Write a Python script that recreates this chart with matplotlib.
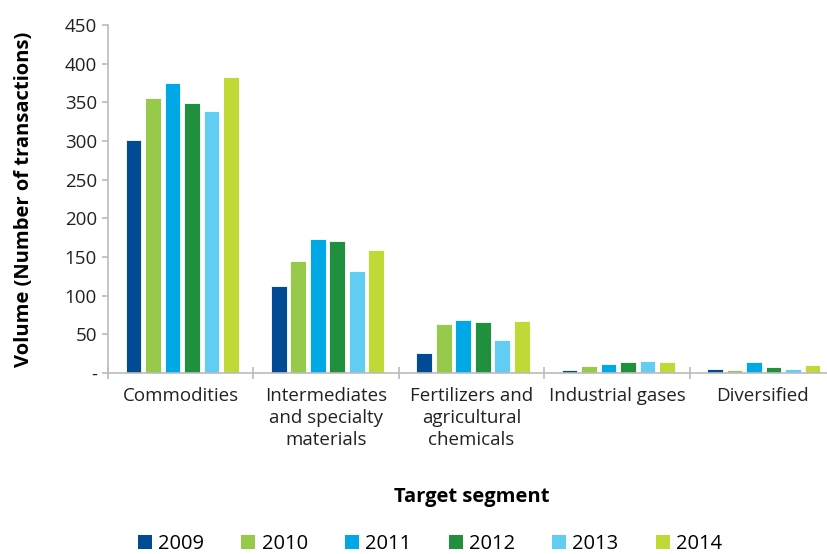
import matplotlib
matplotlib.use("Agg")
import matplotlib.pyplot as plt
import numpy as np
from matplotlib.patches import Patch

plt.rcParams['font.family'] = ['Open Sans', 'DejaVu Sans']

categories = ["Commodities", "Intermediates\nand specialty\nmaterials",
              "Fertilizers and\nagricultural\nchemicals", "Industrial gases", "Diversified"]
years = ["2009", "2010", "2011", "2012", "2013", "2014"]
values = {
    "2009": [301, 113, 26, 4, 5],
    "2010": [356, 145, 63, 9, 4.5],
    "2011": [375, 173, 68, 12, 14.5],
    "2012": [349, 171, 66, 14, 8],
    "2013": [339, 132, 43, 15.5, 5],
    "2014": [383, 159, 67, 14, 10],
}
colors = ["#004B93", "#97C94B", "#00A9E6", "#20903F", "#62CDF2", "#C0D937"]
yticks = [0, 50, 100, 150, 200, 250, 300, 350, 400, 450]
ytick_labels = ["-", "50", "100", "150", "200", "250", "300", "350", "400", "450"]

fig = plt.figure(figsize=(8.28, 5.54), dpi=100)
ax = fig.add_axes([108/828, 1-373/554, 727/828, 348/554])

x = np.arange(len(categories))
pitch = 0.134
bw = 0.108
for i, (yr, c) in enumerate(zip(years, colors)):
    off = (i - 2.5) * pitch
    ax.bar(x + off + 0.01, values[yr], width=bw, color=c, edgecolor='white', linewidth=0.6, label=yr, zorder=2)

ax.set_xlim(-0.5, len(categories) - 0.5)
ax.set_ylim(0, 450)
ax.set_yticks(yticks)
ax.set_yticklabels(ytick_labels, fontsize=13.5, color='#222222')
ax.set_xticks(x)
ax.set_xticklabels(categories, fontsize=13.5, color='#222222', linespacing=1.3)
ax.tick_params(axis='x', which='major', length=0, pad=10)
ax.set_xticks(np.arange(-0.5, len(categories)), minor=True)
ax.tick_params(axis='x', which='minor', length=8, direction='inout', color='#bbbbbb', width=1.2)
ax.tick_params(axis='y', length=4, color='#bbbbbb', width=1.2, pad=4)

for s in ['top', 'right']:
    ax.spines[s].set_visible(False)
for s in ['left', 'bottom']:
    ax.spines[s].set_color('#bbbbbb')
    ax.spines[s].set_linewidth(1.2)

ax.set_ylabel("Volume (Number of transactions)", fontsize=14.5, fontweight='bold', labelpad=22)
fig.text(472/828, 1-497/554, "Target segment", fontsize=14.5, fontweight='bold', ha='center', va='center')

handles = [Patch(facecolor=c, edgecolor='none', label=y) for y, c in zip(years, colors)]
fig.legend(handles=handles, loc='center', bbox_to_anchor=(430/828, 1-544/554), ncol=6,
           frameon=False, fontsize=14.5, handlelength=0.7, handleheight=0.7,
           handletextpad=0.3, columnspacing=1.85)

fig.savefig("out.png", dpi=100)
